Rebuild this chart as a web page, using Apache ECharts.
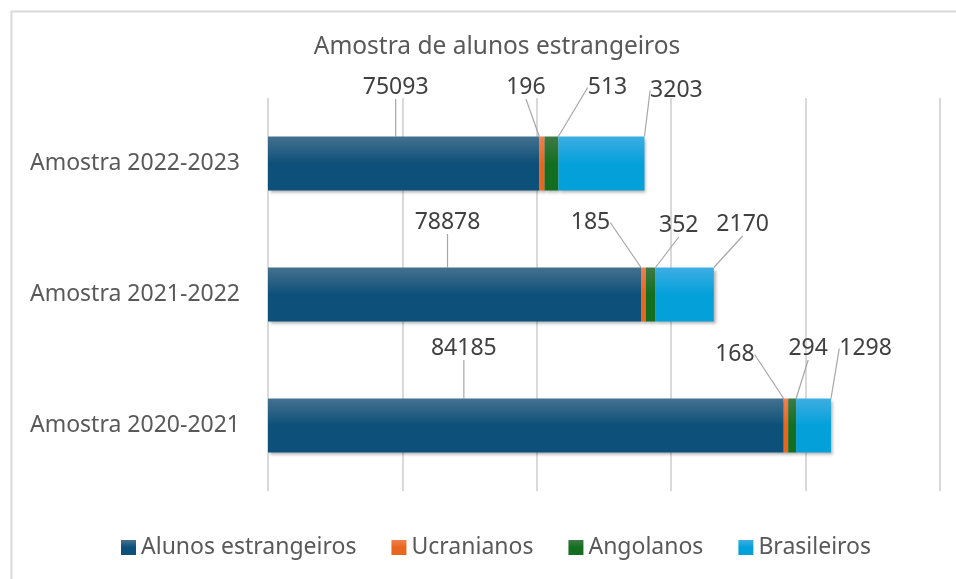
<!DOCTYPE html>
<html>
<head>
<meta charset="utf-8">
<script src="https://cdn.jsdelivr.net/npm/echarts@6/dist/echarts.min.js"></script>
<style>
  html, body {
    margin: 0;
    padding: 0;
    background: #fff;
  }
  #container {
    width: 956px;
    height: 579px;
  }
</style>
</head>
<body>
<div id="container"></div>
<script type="text/javascript">
// dados
var categorias = ['Amostra 2020-2021', 'Amostra 2021-2022', 'Amostra 2022-2023'];
var alunosEstrangeiros = [84185, 78878, 75093];
var ucranianos = [168, 185, 196];
var angolanos = [294, 352, 513];
var brasileiros = [1298, 2170, 3203];

var GRID_LEFT = 268;
// deslocamento dos rotulos (dx a partir do centro da barra, dy a partir do topo)
var labelOffsets = [
    [[-62, -50], [-7, -45], [-8, -49]],
    [[-51, -44], [-53, -45], [-16, -49]],
    [[16, -50], [28, -42], [56, -49]],
    [[52, -50], [58, -43], [75, -46]]
];

function grad(top, bottom) {
    return new echarts.graphic.LinearGradient(0, 0, 0, 1, [
        {offset: 0, color: top},
        {offset: 0.5, color: bottom},
        {offset: 1, color: bottom}
    ]);
}

var FONT = "'Noto Sans', 'Open Sans', sans-serif";

function serie(name, data, top, bottom) {
    return {
        name: name,
        type: 'bar',
        stack: 'total',
        barWidth: 54,
        data: data,
        itemStyle: {
            color: grad(top, bottom),
            shadowBlur: 3,
            shadowColor: 'rgba(0,0,0,0.3)',
            shadowOffsetX: 2,
            shadowOffsetY: 2
        },
        label: {
            show: true,
            position: 'top',
            fontFamily: FONT,
            fontSize: 23,
            color: '#404040'
        },
        labelLine: {
            show: true,
            lineStyle: {color: '#a6a6a6', width: 1.2}
        },
        labelLayout: function (p) {
            var off = labelOffsets[p.seriesIndex][p.dataIndex];
            var x0 = Math.max(p.rect.x, GRID_LEFT);
            var x1 = p.rect.x + p.rect.width;
            return {
                x: (x0 + x1) / 2 + off[0],
                y: p.rect.y + off[1],
                align: 'center',
                verticalAlign: 'middle'
            };
        }
    };
}

var dom = document.getElementById('container');
var myChart = echarts.init(dom);
var option = {
    animation: false,
    title: {
        text: 'Amostra de alunos estrangeiros',
        left: 492,
        textAlign: 'center',
        top: 30,
        textStyle: {
            fontFamily: FONT,
            fontSize: 24.5,
            fontWeight: 'normal',
            color: '#595959'
        }
    },
    graphic: [{
        type: 'rect',
        left: 9,
        top: 9,
        z: -10,
        shape: {width: 1000, height: 1000},
        style: {fill: 'none', stroke: '#d9d9d9', lineWidth: 2}
    }],
    legend: {
        left: 116,
        top: 531,
        itemGap: 35,
        itemWidth: 15,
        itemHeight: 15,
        icon: 'rect',
        textStyle: {
            fontFamily: FONT,
            fontSize: 23,
            color: '#595959'
        },
        data: ['Alunos estrangeiros', 'Ucranianos', 'Angolanos', 'Brasileiros']
    },
    grid: {
        left: GRID_LEFT,
        right: 16,
        top: 98,
        bottom: 88
    },
    xAxis: {
        type: 'value',
        min: 65000,
        max: 90000,
        interval: 5000,
        startValue: 65000,
        axisLabel: {show: false},
        axisLine: {show: false},
        axisTick: {show: false},
        splitLine: {lineStyle: {color: '#d9d9d9', width: 2}}
    },
    yAxis: {
        type: 'category',
        data: categorias,
        axisLine: {show: false},
        axisTick: {show: false},
        axisLabel: {
            margin: 28,
            fontFamily: FONT,
            fontSize: 23,
            color: '#595959'
        }
    },
    series: [
        serie('Alunos estrangeiros', alunosEstrangeiros, '#45718f', '#0d5079'),
        serie('Ucranianos', ucranianos, '#f08050', '#e8661e'),
        serie('Angolanos', angolanos, '#3e7a45', '#146e1f'),
        serie('Brasileiros', brasileiros, '#3daee3', '#04a0da')
    ]
};
myChart.setOption(option, true);
</script>
</body>
</html>
